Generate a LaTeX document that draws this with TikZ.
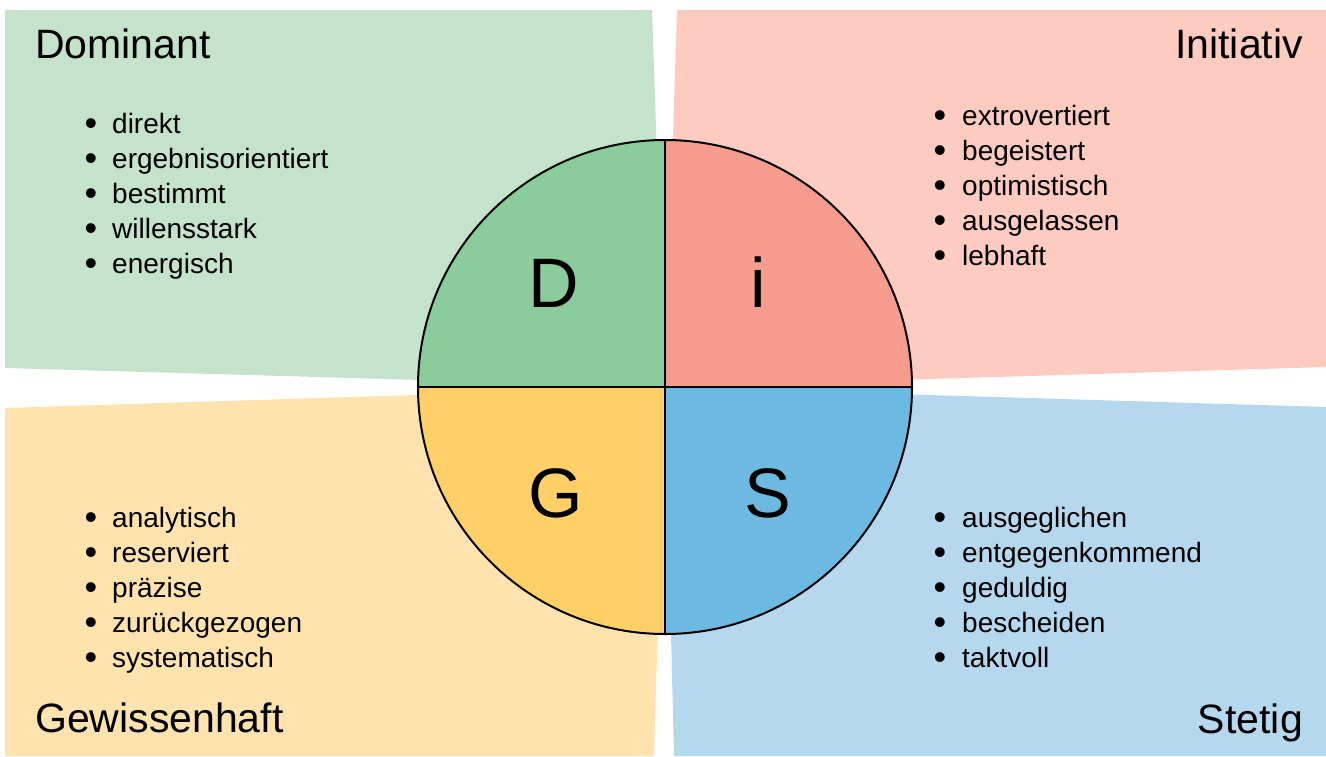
\documentclass[tikz,border=0pt]{standalone}
\usepackage{fontspec}
\setmainfont{Liberation Sans}
\definecolor{gbg}{HTML}{C5E3CB}
\definecolor{rbg}{HTML}{FDCBC0}
\definecolor{ybg}{HTML}{FFE3AE}
\definecolor{bbg}{HTML}{B6D8EE}
\definecolor{gq}{HTML}{8ACC9B}
\definecolor{rq}{HTML}{F59C8E}
\definecolor{yq}{HTML}{FFD068}
\definecolor{bq}{HTML}{6CBAE2}
\tikzset{
  title/.style={font=\fontsize{41}{48}\selectfont, inner sep=0pt},
  item/.style={font=\fontsize{28}{34}\selectfont, inner sep=0pt, anchor=base west},
  bul/.style={font=\fontsize{36}{40}\selectfont, inner sep=0pt, anchor=base, yshift=-2.5pt},
  letter/.style={font=\fontsize{70}{80}\selectfont, inner sep=0pt, anchor=base},
}
\begin{document}
\begin{tikzpicture}[x=1pt,y=-1pt]
\useasboundingbox (0,0) rectangle (1326,756);
\coordinate (c) at (665,387);
% background sectors
\fill[gbg] (5,10) -- (652,10) -- (c) -- (5,368) -- cycle;
\fill[rbg] (677,10) -- (1326,10) -- (1326,367) -- (c) -- cycle;
\fill[ybg] (5,408) -- (c) -- (654,756) -- (5,756) -- cycle;
\fill[bbg] (c) -- (1326,407) -- (1326,756) -- (674,756) -- cycle;
% circle quadrants (y axis points down: angle 270 is up)
\fill[gq] (c) -- ++(-247,0) arc[start angle=180,end angle=270,radius=247] -- cycle;
\fill[rq] (c) -- ++(0,-247) arc[start angle=270,end angle=360,radius=247] -- cycle;
\fill[yq] (c) -- ++(-247,0) arc[start angle=180,end angle=90,radius=247] -- cycle;
\fill[bq] (c) -- ++(247,0) arc[start angle=0,end angle=90,radius=247] -- cycle;
\draw[line width=2pt] (c) circle[radius=247];
\coordinate (t) at (665,140);
\coordinate (b) at (665,634);
\coordinate (l) at (418,387);
\coordinate (r) at (912,387);
\draw[line width=1.6pt] (t) -- (b);
\draw[line width=1.6pt] (l) -- (r);
% letters
\node[letter] (D) at (554,307) {D};
\node[letter] (I) at (758,307) {i};
\node[letter] (G) at (556,517) {G};
\node[letter] (S) at (768,517) {S};
% titles
\node[title, anchor=base west] (tD) at (35,58) {Dominant};
\node[title, anchor=base east] (tI) at (1303,58) {Initiativ};
\node[title, anchor=base west] (tG) at (35,732) {Gewissenhaft};
\node[title, anchor=base east] (tS) at (1303,733) {Stetig};
% lists
\foreach \t [count=\i] in {direkt,ergebnisorientiert,bestimmt,willensstark,energisch}{
  \node[bul] (dbul\i) at (91,{133+35*(\i-1)}) {•};
  \node[item] (dit\i) at (112,{133+35*(\i-1)}) {\t};
}
\foreach \t [count=\i] in {extrovertiert,begeistert,optimistisch,ausgelassen,lebhaft}{
  \node[bul] (ibul\i) at (940,{125+35*(\i-1)}) {•};
  \node[item] (iit\i) at (962,{125+35*(\i-1)}) {\t};
}
\foreach \t [count=\i] in {analytisch,reserviert,präzise,zurückgezogen,systematisch}{
  \node[bul] (gbul\i) at (91,{527+35*(\i-1)}) {•};
  \node[item] (git\i) at (112,{527+35*(\i-1)}) {\t};
}
\foreach \t [count=\i] in {ausgeglichen,entgegenkommend,geduldig,bescheiden,taktvoll}{
  \node[bul] (sbul\i) at (940,{527+35*(\i-1)}) {•};
  \node[item] (sit\i) at (962,{527+35*(\i-1)}) {\t};
}
\end{tikzpicture}
\end{document}
